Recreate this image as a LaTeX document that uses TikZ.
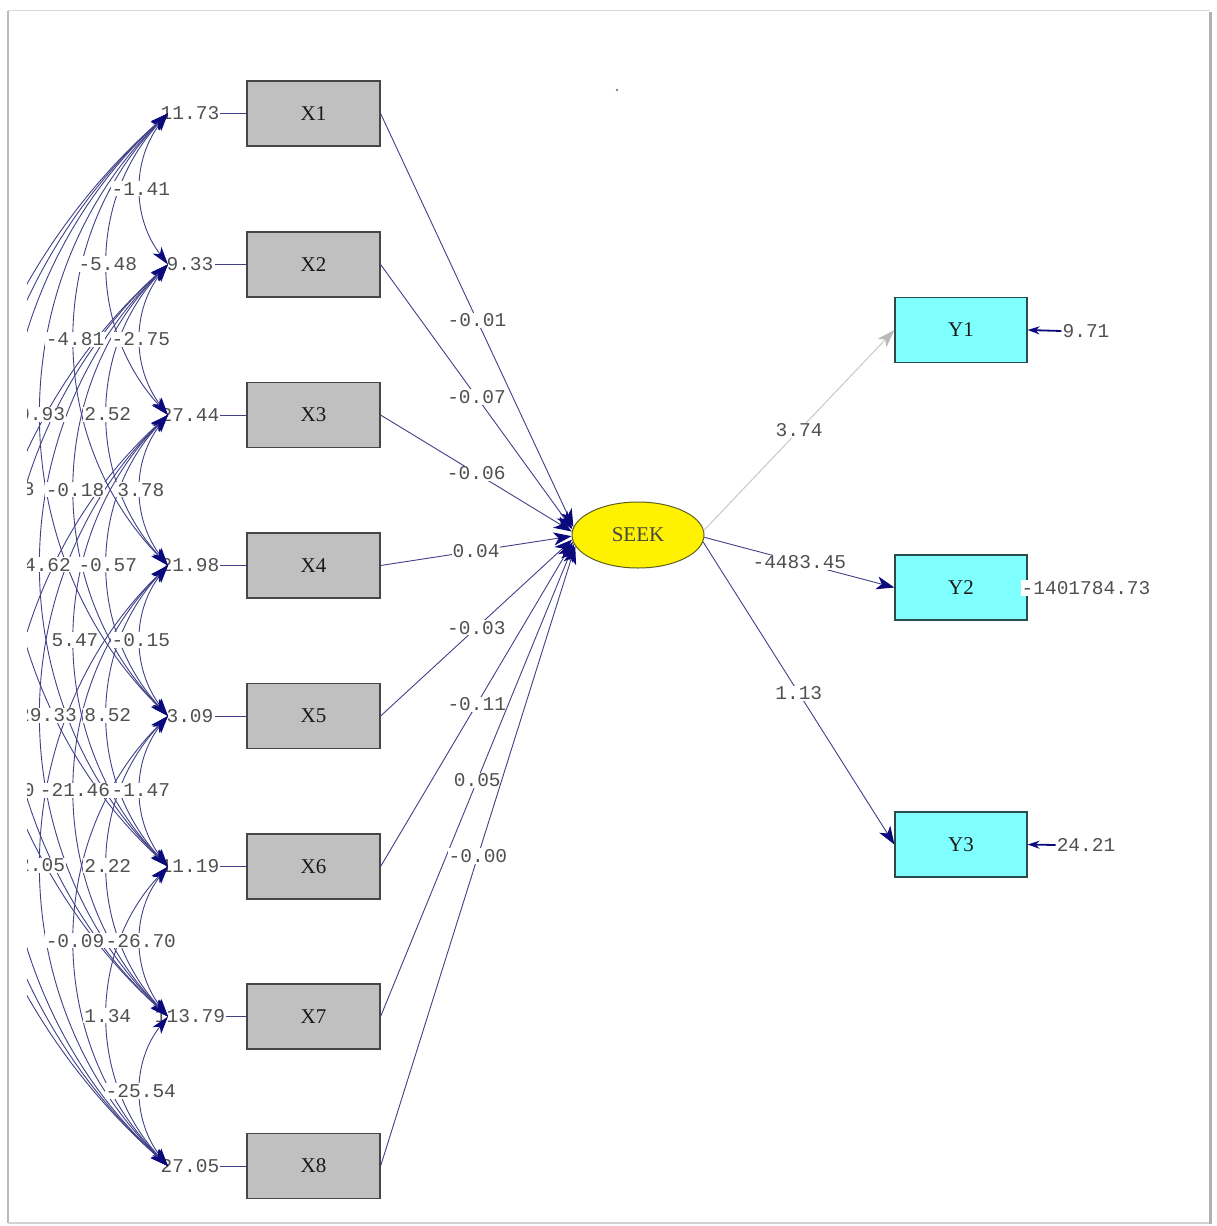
\documentclass[tikz,border=0pt]{standalone}
\usepackage{fontspec}
\setmainfont{Liberation Serif}
\newfontfamily\monofont{Liberation Mono}
\usetikzlibrary{arrows.meta,shapes.geometric}
\definecolor{pathc}{RGB}{65,65,135}
\definecolor{navyc}{RGB}{10,10,125}
\definecolor{labc}{RGB}{80,80,80}
\definecolor{txtc}{RGB}{25,25,25}
\definecolor{xfillc}{RGB}{192,192,192}
\definecolor{xdrawc}{RGB}{70,70,70}
\definecolor{yfillc}{RGB}{128,255,255}
\definecolor{ydrawc}{RGB}{45,75,75}
\definecolor{ldrawc}{RGB}{95,95,35}
\definecolor{lightc}{RGB}{200,200,200}
\definecolor{lighttipc}{RGB}{185,185,185}
\tikzset{
  xbox/.style={draw=xdrawc, fill=xfillc, line width=1.2pt, minimum width=133pt,
    minimum height=65pt, inner sep=0pt, font=\fontsize{21}{24}\selectfont, text=txtc},
  ybox/.style={xbox, draw=ydrawc, fill=yfillc, minimum width=132pt},
  latent/.style={ellipse, draw=ldrawc, fill=yellow, line width=1pt, minimum width=132pt,
    minimum height=66pt, inner sep=0pt, font=\fontsize{21}{24}\selectfont, text={rgb,255:red,70;green,70;blue,70}},
  num/.style={font=\monofont\fontsize{19.5}{20}\selectfont, text=labc, fill=white, inner sep=1pt},
  varlab/.style={font=\monofont\fontsize{19.5}{20}\selectfont, text=labc, inner sep=1pt},
  plainline/.style={draw=pathc, line width=0.9pt},
  pth/.style={draw=pathc, line width=0.9pt, -{Stealth[length=18pt,width=13pt,inset=5pt,color=navyc]}},
  ltpth/.style={draw=lightc, line width=1pt, -{Stealth[length=18pt,width=12pt,inset=5pt,color=lighttipc]}},
  cov/.style={draw=pathc, line width=0.9pt,
    {Stealth[length=18pt,width=11pt,inset=5pt,color=navyc]}-{Stealth[length=18pt,width=11pt,inset=5pt,color=navyc]}},
  errarrow/.style={draw=navyc, line width=1.8pt, -{Stealth[length=12pt,width=8pt,color=navyc]}}
}
\begin{document}
\begin{tikzpicture}[x=1pt,y=1pt]
\useasboundingbox (0,0) rectangle (1217,-1226);
\fill[white] (0,0) rectangle (1217,-1226);
% frame with shadow
\draw[gray!30, line width=1pt] (8,-10) -- (1210,-10);
\draw[gray!55, line width=2pt] (8,-11) -- (8,-1223);
\draw[gray!35, line width=1.5pt] (8,-1223) -- (1211,-1223);
\draw[gray!60, line width=3pt] (1210.5,-12) -- (1210.5,-1224);
\fill[gray] (617,-90) circle (1.3);

% observed X variables
\node[xbox] (X1) at (313.5,-113.5) {X1};
\node[xbox] (X2) at (313.5,-264.5) {X2};
\node[xbox] (X3) at (313.5,-415) {X3};
\node[xbox] (X4) at (313.5,-565.5) {X4};
\node[xbox] (X5) at (313.5,-716) {X5};
\node[xbox] (X6) at (313.5,-866.5) {X6};
\node[xbox] (X7) at (313.5,-1016.5) {X7};
\node[xbox] (X8) at (313.5,-1166) {X8};

% latent and Y variables
\node[latent] (SEEK) at (638,-535) {SEEK};
\node[ybox] (Y1) at (961,-330) {Y1};
\node[ybox] (Y2) at (961,-587.5) {Y2};
\node[ybox] (Y3) at (961,-844.5) {Y3};

% variance labels
\node[varlab] (v1) at (190,-113.5) {11.73};
\node[varlab] (v2) at (190,-264.5) {9.33};
\node[varlab] (v3) at (190,-415) {27.44};
\node[varlab] (v4) at (190,-565.5) {21.98};
\node[varlab] (v5) at (190,-716) {3.09};
\node[varlab] (v6) at (190,-866.5) {11.19};
\node[varlab] (v7) at (190,-1016.5) {113.79};
\node[varlab] (v8) at (190,-1166) {27.05};
\foreach \i in {1,...,8} \draw[plainline] (v\i.east) -- (X\i.west);

% arrow tip points of covariance arcs
\coordinate (t1) at (168,-113.5);
\coordinate (t2) at (168,-264.5);
\coordinate (t3) at (168,-415);
\coordinate (t4) at (168,-565.5);
\coordinate (t5) at (168,-716);
\coordinate (t6) at (168,-866.5);
\coordinate (t7) at (168,-1016.5);
\coordinate (t8) at (168,-1166);

\begin{scope}
\clip (27,0) rectangle (1217,-1226);
\foreach \i/\j/\b in {1/2/38,2/3/38,3/4/38,4/5/38,5/6/38,6/7/38,7/8/38,
  1/3/43,2/4/43,3/5/43,4/6/43,5/7/43,6/8/43,
  1/4/44.6,2/5/44.6,3/6/44.6,4/7/44.6,5/8/44.6,
  1/5/45.7,2/6/45.7,3/7/45.7,4/8/45.7,
  1/6/47.5,2/7/47.5,3/8/47.5,
  1/7/48,2/8/48,
  1/8/48.5}{
  \pgfmathsetmacro\ya{-(113.5+150.36*(\i-1))}
  \pgfmathsetmacro\yb{-(113.5+150.36*(\j-1))}
  \pgfmathsetmacro\dd{0.3915*150.36*(\j-\i)}
  \pgfmathsetmacro\cx{168-\dd*sin(\b)}
  \pgfmathsetmacro\cya{\ya-\dd*cos(\b)}
  \pgfmathsetmacro\cyb{\yb+\dd*cos(\b)}
  \draw[cov] (t\i) .. controls (\cx,\cya) and (\cx,\cyb) .. coordinate[pos=0.5] (m\i-\j) (t\j);
}
\foreach \i/\j/\lab in {1/2/-1.41,2/3/-2.75,3/4/3.78,4/5/-0.15,5/6/-1.47,6/7/-26.70,7/8/-25.54,
  1/3/-5.48,2/4/2.52,3/5/-0.57,4/6/8.52,5/7/2.22,6/8/1.34,
  1/4/-4.81,2/5/-0.18,3/6/5.47,4/7/-21.46,5/8/-0.09,
  1/5/0.93,2/6/-4.62,3/7/-29.33,4/8/2.05,
  1/6/-1.38,2/7/1.12,3/8/-3.60}
  \node[num] (c\i-\j) at (m\i-\j) {\lab};
\end{scope}

% paths X -> SEEK
\draw[pth] (X1.east) -- node[num] {-0.01} (SEEK.173);
\draw[pth] (X2.east) -- node[num] {-0.07} (SEEK.175);
\draw[pth] (X3.east) -- node[num] {-0.06} (SEEK.177);
\draw[pth] (X4.east) -- node[num] {0.04} (SEEK.181);
\draw[pth] (X5.east) -- node[num] {-0.03} (SEEK.184);
\draw[pth] (X6.east) -- node[num] {-0.11} (SEEK.186);
\draw[pth] (X7.east) -- node[num] {0.05} (SEEK.188);
\draw[pth] (X8.east) -- node[num] {-0.00} (SEEK.190);

% paths SEEK -> Y
\draw[ltpth] (SEEK.4) -- node[num] {3.74} (Y1.west);
\draw[pth] (SEEK.-2) -- node[num] {-4483.45} (Y2.west);
\draw[pth] (SEEK.-6) -- node[num] {1.13} (Y3.west);

% error variances
\node[varlab] (e1) at (1086,-331) {9.71};
\node[varlab] (e3) at (1086,-845) {24.21};
\draw[errarrow] (e1.west) -- (Y1.east);
\draw[errarrow] (e3.west) -- (Y3.east);
\node[num] (e2) at (1086,-588) {-1401784.73};
\end{tikzpicture}
\end{document}
